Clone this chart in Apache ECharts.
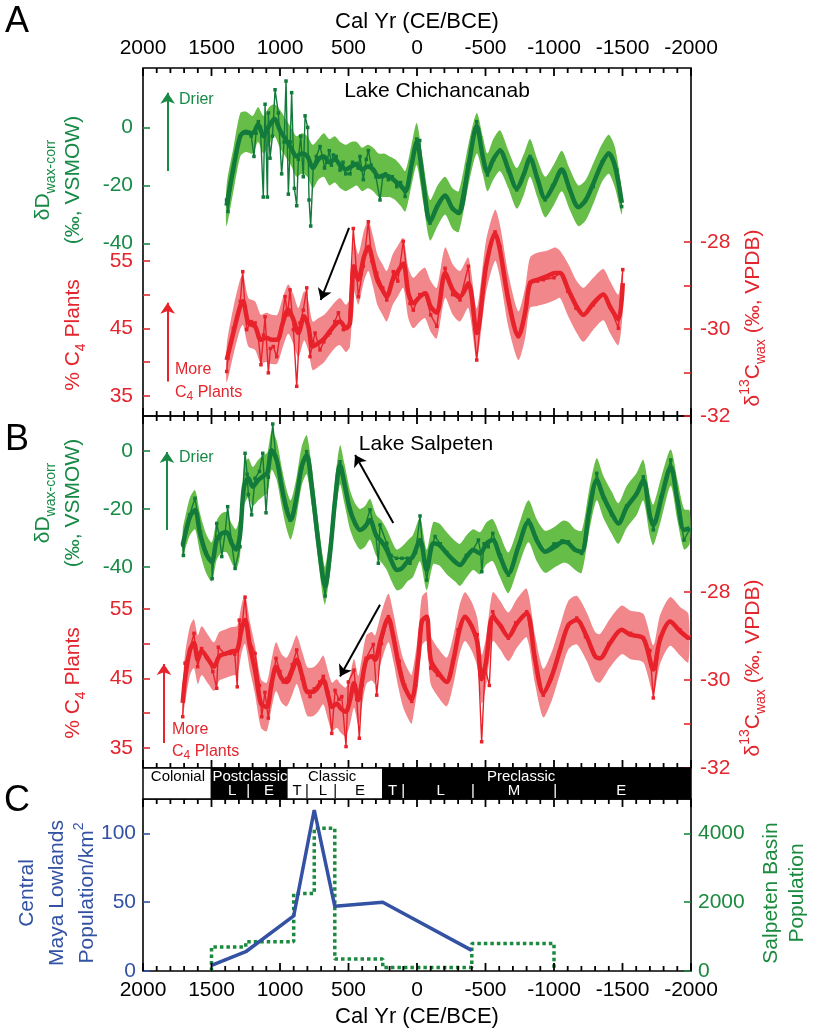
<!DOCTYPE html>
<html><head><meta charset="utf-8">
<script src="https://cdn.jsdelivr.net/npm/echarts@6/dist/echarts.min.js"></script>
<style>html,body{margin:0;padding:0;background:#fff}#c{width:813px;height:1031px}</style>
</head><body><div id="c"></div>
<script>
// ---------------- DATA ----------------
const xTicks = [2000,1500,1000,500,0,-500,-1000,-1500,-2000];
const xMinorStep = 100;
const greenTicks = [0,-20,-40];
const pctTicks = [35,40,45,50,55];
const pctLabels = [35,45,55];
const d13Ticks = [-32,-31,-30,-29,-28];
const d13Labels = [-32,-30,-28];
const popTicks = [0,50,100];
const salpTicks = [0,2000,4000];

const agYr = [1390,1340,1290,1250,1200,1160,1120,1080,1040,1000,960,920,880,840,800,760,720,680,640,600,560,520,480,440,400,360,320,280,240,200,160,120,85,40,2,-46,-95,-150,-205,-260,-305,-375,-436,-480,-514,-557,-606,-667,-728,-781,-825,-878,-935,-996,-1057,-1112,-1178,-1232,-1290,-1348,-1400,-1446,-1495];
const agMid = [-27,-14,-3,-1.5,-2,1,-3,0.5,3,-1,-4,-7,-10,-9,-10,-14,-11,-10,-12,-11,-13,-14.5,-13.5,-12.5,-14.5,-13.5,-14.5,-17,-16.5,-17,-18.5,-20,-22,-13,-5,-19,-32.5,-27,-23.5,-28,-29.5,-13.5,0.5,-10,-15.5,-11,-8,-14.5,-21,-16,-10.5,-17.5,-24.5,-20,-14.5,-21,-27.5,-25,-19,-12.5,-9,-13.5,-26];
const agHi = [-20,-7,5,5.5,4,7,4,7,8,6,3,0,-3,-2,-3,-6,-4,-2,-4,-3,-5,-6,-5,-5,-7,-6,-7,-9,-9,-10,-11,-13,-15,-6,1.5,-12,-25,-20,-17,-21,-22,-6,5,-3,-9,-4,-1,-8,-14,-9,-4,-11,-17,-13,-8,-14,-20,-18,-12,-6,-2.5,-7,-22];
const agLo = [-34,-22,-10,-8.5,-9,-5,-9,-6,-3,-7,-10,-13,-17,-16,-17,-21,-18,-17,-20,-19,-21,-22,-21,-20,-22,-21,-22,-24,-24,-24,-25,-27,-29,-20,-13,-26,-39,-34,-30,-35,-36,-20,-9,-16,-22,-18,-15,-21,-28,-23,-17,-24,-31,-27,-22,-28,-34,-32,-26,-19,-16,-21,-30];
const agRawYr = [1390,1380,1340,1290,1270,1240,1210,1190,1175,1158,1143,1122,1109,1092,1085,1073,1055,1036,1012,988,970,956,939,925,915,895,878,866,849,830,817,798,788,776,757,735,708,690,675,659,640,625,611,590,562,540,520,489,470,450,430,416,392,370,355,335,319,300,270,250,230,209,180,148,120,100,87,40,2,-20,-46,-95,-150,-205,-260,-302,-370,-436,-480,-514,-560,-606,-667,-728,-780,-825,-880,-935,-990,-1057,-1110,-1178,-1230,-1287,-1350,-1397,-1458,-1494];
const agRaw = [-25,-29,-15,-3,-2,-2,-3,-10,-2,2,0,-24,8,-24,5,-10.6,-3,13,5,-16,-5,16,-23,-5,12,-21,-27,-11,-3,-17,4,0,-25,-34,-13.5,-10,-6.6,-10,-14,-12,-8,-13,-9.5,-10,-14.7,-12,-16,-16,-12,-13,-14,-10,-18,-11,-8,-13,-14.7,-17,-25,-17,-16,-18,-17,-20.4,-19,-21,-23.8,-12,-4,-4.5,-19,-33,-27,-23.8,-28,-29.6,-13,2,-10,-16.4,-11,-7.8,-15,-21.5,-16,-10,-18,-25,-20,-14.7,-21,-27.3,-25,-20.4,-12,-8.9,-14.7,-27.3];

const arYr = [1389,1341,1292,1270,1231,1182,1140,1100,1060,1020,980,940,902,866,824,793,762,720,677,635,594,562,518,489,460,428,387,355,319,290,252,221,177,141,100,63,27,-22,-59,-100,-144,-205,-261,-314,-375,-436,-504,-570,-606,-667,-740,-789,-825,-878,-947,-1008,-1044,-1105,-1166,-1214,-1287,-1360,-1409,-1470,-1502];
const arMid = [40.3,44.3,48.2,49,45.8,45.3,43.3,43.6,43.3,43.3,45.8,47.8,46.3,44.3,46.8,45.3,42.3,42.8,43.5,44.6,45.6,46,45,45.8,54.2,52.2,55.6,57.1,54.6,52.2,50.7,49.7,52.2,53.4,54.6,50.2,48.7,49.7,50.2,48.2,47.3,53.2,50.7,49.7,51.7,44.3,54.2,59.1,56.6,49.2,43.8,47.3,51.7,52.2,52.7,53.2,53.2,50.7,48.2,47,48.7,50,48.2,46.3,51.7];
const arHi = [42.5,48,52.2,53,49.5,49,47,47.3,47,47,49.5,51.5,50,48,50.5,49,46,46.5,47,48,49,49.5,48.5,49.5,58,56,59.5,61,58.5,56,54.5,53.5,56,57.2,58.4,54,52.5,53.5,54,52,51,57,54.5,53.5,55.5,48,58,62.6,60.3,53,47.5,51,55.5,56.2,56.5,57,56.5,54.5,52,51,52.5,53.8,52,50,54];
const arLo = [37,41,44.8,45.5,42.3,41.8,39.8,40,39.7,39.8,42.2,44.2,42.7,40.7,43.2,41.7,38.8,39.3,40,41.2,42.2,42.5,41.5,42.3,50.5,48.5,52,53.5,51,48.5,47,46,48.5,49.7,51,46.5,45,46,46.5,44.5,43.5,49.5,47,46,48,40.5,50.3,55,52.5,45.2,40.3,43.5,48,48.3,48.7,49.2,49.5,46.7,44.3,43,44.8,46.2,44.3,42.5,47.5];
const arRawYr = [1389,1380,1340,1290,1272,1255,1243,1210,1182,1160,1139,1120,1109,1085,1070,1049,1024,1000,963,945,927,902,878,854,830,805,781,760,744,708,680,650,635,600,574,537,501,465,428,392,355,330,294,250,221,173,140,100,51,27,-20,-59,-100,-144,-205,-260,-314,-375,-436,-500,-570,-606,-670,-740,-790,-825,-880,-922,-1000,-1044,-1100,-1160,-1214,-1287,-1360,-1409,-1470,-1502];
const arRaw = [38.6,40.6,45,49,53.4,48,44.8,46,45.8,44,39.6,44,46.7,38.4,42,42.3,40.8,44,49.7,47,50.7,44.8,36.4,45.8,47.7,51,40.8,43,44.3,41.8,43,44,44.3,46,47.3,44.8,45.3,59.8,49.7,54.2,60.8,55,53.2,51,49.2,53.4,52,57.9,48.7,47.7,50,50.2,47,45.3,53.9,50,49.2,54.2,40.3,54,59.3,57.1,49,43.8,47.5,51.7,52,52.2,52.5,53.2,50.5,48,47,48.5,50,48.2,45,53.7];

const bgYr = [1710,1693,1657,1620,1584,1540,1498,1462,1425,1389,1353,1321,1292,1263,1231,1199,1158,1121,1092,1061,1024,988,951,922,883,842,805,768,727,688,671,635,598,562,530,489,452,416,379,343,299,258,221,184,148,112,71,30,-22,-71,-119,-163,-217,-278,-314,-363,-411,-460,-509,-553,-606,-667,-740,-813,-874,-935,-1008,-1068,-1105,-1154,-1202,-1258,-1312,-1360,-1421,-1470,-1531,-1604,-1652,-1701,-1725,-1786,-1852,-1901,-1949,-1990];
const bgMid = [-32.4,-28.9,-22.6,-20.3,-28.4,-35.3,-38.2,-30.7,-28.4,-28,-31.8,-34,-29,-12.3,-9.4,-12.3,-10,-8.6,-7.5,0.3,-3.1,-12.3,-20.3,-23.8,-16.9,-5.4,-1.4,-12.3,-28.9,-43.3,-46.7,-35.4,-16.9,-4.8,-11.1,-20.3,-24.9,-27.2,-26.1,-23.8,-29,-31.3,-34.1,-38.2,-41,-40.5,-38.2,-36.4,-30.7,-41,-31.8,-32.4,-35.3,-38.2,-39.3,-36.4,-34.1,-35.3,-31.8,-30.7,-36.4,-42.2,-33,-24.4,-30.7,-34.7,-33,-31.3,-31.8,-34.1,-34.7,-20.3,-10,-15.7,-21.5,-25,-19.3,-14.7,-10,-22.6,-25.5,-15.7,-5.4,-16.9,-27.2,-26.6];
const bgHi = [-27,-23,-16,-13.5,-21.5,-28.5,-31.5,-24,-21.5,-21,-25,-27,-22,-5.5,-2.5,-5.5,-3,-1.5,-0.5,7,3.5,-5.5,-13.5,-17,-10,1.5,5.5,-5.5,-22,-36.5,-40,-28.5,-10,2,-4.3,-13.5,-18,-20,-19,-16.5,-22,-24,-27,-31,-34,-33,-31,-29,-23,-34,-24.5,-25,-28,-31,-32,-29,-27,-28,-24.5,-23.5,-29,-35,-26,-17,-23.5,-27.5,-26,-24,-24.5,-27,-27.5,-13,-2.5,-8.5,-14,-18,-12,-7.5,-3,-15.5,-18.5,-8.5,0.5,-10,-20,-20.5];
const bgLo = [-37,-34,-29,-27,-35,-42,-45,-37.5,-35,-35,-38.5,-41,-36,-19,-16,-19,-17,-15.5,-14.5,-6.5,-10,-19,-27,-30.5,-23.5,-12,-8,-19,-35.5,-50,-53,-42,-23.5,-11.5,-18,-27,-31.5,-34,-33,-30.5,-36,-38.5,-41,-45,-48,-47.5,-45,-43.5,-38,-48,-39,-39.5,-42.5,-45,-46.5,-43.5,-41,-42.5,-39,-38,-43.5,-49,-40,-31.5,-38,-42,-40,-38.5,-39,-41,-42,-27.5,-17,-23,-28.5,-32,-26.5,-22,-17,-29.5,-32.5,-23,-12,-24,-34,-32];
const bgRawYr = [1710,1705,1690,1660,1620,1580,1540,1498,1495,1462,1440,1425,1400,1382,1355,1328,1292,1255,1240,1231,1207,1182,1150,1126,1102,1085,1053,1030,988,950,927,883,842,805,768,727,688,671,635,598,562,530,489,452,416,380,343,300,282,270,221,190,150,110,70,51,10,-22,-40,-71,-100,-132,-170,-217,-270,-314,-360,-410,-448,-465,-473,-490,-520,-553,-610,-667,-740,-813,-870,-935,-1000,-1060,-1105,-1150,-1202,-1260,-1312,-1360,-1420,-1470,-1530,-1600,-1652,-1700,-1725,-1780,-1852,-1900,-1949,-1988];
const bgRaw = [-32.4,-36,-28,-22,-16.3,-28,-35,-38.2,-44,-25,-30,-36.4,-28,-19.2,-31,-40.5,-33,-0.8,-8,-15,-22,-9.4,-7,-0.8,-21.3,-9,9.3,-2,-12,-20,-23.8,-17,-6,-0.2,-12,-29,-44,-50,-35,-17,-3.7,-11,-20,-25,-27.2,-26,-20.3,-29,-38.7,-25.5,-31.8,-36,-37,-37,-37,-38.7,-35,-22.4,-33,-44.5,-34,-29.5,-32,-35,-38,-39.3,-36,-34,-30.7,-35,-41.6,-32,-33,-28.4,-36,-42.8,-33,-23.8,-30,-34.7,-32,-31,-31.3,-34,-35.3,-21,-7.7,-16,-22,-24.9,-19,-15,-8.9,-22,-27.2,-16,-3.1,-17,-30.7,-27.2];

const brYr = [1710,1693,1657,1628,1600,1572,1523,1482,1443,1394,1353,1312,1280,1255,1219,1182,1139,1097,1061,1029,988,951,910,878,837,800,757,720,684,647,620,586,557,520,489,460,428,404,370,330,306,265,209,173,136,100,56,38,-10,-35,-71,-100,-156,-217,-266,-310,-350,-399,-440,-472,-504,-553,-606,-667,-728,-801,-862,-922,-983,-1044,-1105,-1166,-1239,-1300,-1336,-1409,-1494,-1555,-1652,-1725,-1774,-1847,-1920,-1981];
const brMid = [41.5,45,49.1,50.1,47.7,49,47.7,46.7,48.2,48.6,48.9,49.1,52.2,53.4,49.6,46.2,41.4,40.9,44.3,46.7,45,44.5,46.2,47.7,45.3,43.1,43.1,43.8,44.8,42.4,40.9,41.4,40.7,40.2,41.9,44.3,41.9,44.3,47.7,48.2,47.7,50.6,53.7,51,47.2,44.3,42.4,42,48,53.2,53.9,47.7,45.8,44.5,47.7,52,53.9,52.5,50.2,44.9,47.4,53.9,52.7,51,52.9,54.4,47.7,42.9,45.3,49.1,52.7,53.4,51,48.2,47.9,50.1,52,51.3,50.8,46.3,50.6,53.2,51.8,50.8];
const brHi = [44,48.5,52.5,53.5,51.2,52.5,51.2,50.2,51.7,52.1,52.4,52.6,55.7,57,53.1,49.7,44.9,44.4,47.8,50.2,48.5,48,49.7,51.2,48.8,46.6,46.6,47.3,48.3,45.9,44.4,44.9,44.2,43.7,45.4,47.8,45.4,47.8,51.2,51.7,51.2,54.1,57.2,54.5,50.7,47.8,45.9,45.5,51.5,56.7,57.4,51.2,49.3,48,51.2,55.5,57.4,56,53.7,48.4,50.9,57.4,56.2,54.5,56.4,57.9,51.2,46.4,48.8,52.6,56.2,56.9,54.5,51.7,51.4,53.6,55.5,54.8,54.3,49.8,54.1,56.7,55.3,54.3];
const brLo = [39.5,41.5,45.5,46.5,44.2,45.5,44.2,43.2,44.7,45.1,45.4,45.6,48.7,50,46.1,42.7,37.9,37.4,40.8,43.2,41.5,41,42.7,44.2,41.8,39.6,39.6,40.3,41.3,38.9,37.4,37.9,37.2,36.7,38.4,40.8,38.4,40.8,44.2,44.7,44.2,47.1,50.2,47.5,43.7,40.8,38.9,38.5,44.5,49.7,50.4,44.2,42.3,41,44.2,48.5,50.4,49,46.7,41.4,43.9,50.4,49.2,47.5,49.4,50.9,44.2,39.4,41.8,45.6,49.2,49.9,47.5,44.7,44.4,46.6,48.5,47.8,47.3,42.8,47.1,49.7,48.3,47.3];
const brRawYr = [1710,1693,1660,1628,1601,1572,1530,1490,1462,1450,1400,1365,1330,1312,1297,1280,1255,1231,1182,1150,1133,1110,1085,1060,1029,1000,976,950,910,878,840,800,781,750,710,684,650,622,598,570,549,518,501,460,440,421,400,372,319,294,260,209,170,130,90,38,10,-35,-71,-100,-150,-217,-260,-300,-350,-400,-440,-472,-497,-528,-553,-610,-667,-720,-801,-860,-922,-980,-1040,-1100,-1166,-1230,-1290,-1336,-1400,-1494,-1560,-1652,-1700,-1725,-1774,-1847,-1920,-1981];
const brRaw = [39.5,47.2,49,51.5,46.7,49.3,48,46,43.6,49.5,48.5,48.6,48.5,43.8,53.4,52,56.7,51,48.6,44,39.5,43,39.3,44,47.9,46,44.5,45,47,49.1,45,43,42.4,43.5,44.5,45.3,43,37.1,43.3,42,42.4,35.2,44.5,46.2,42,36.4,44,47.9,49.9,42.6,50,53.9,51,47.5,44,41.7,44,53.2,53.9,46.5,45.5,44.5,47.5,52,53.9,52.5,51.3,35.9,46.5,44,54.6,52.5,50.8,53,54.6,48,42.6,45,49,52.5,53.7,51,48.5,47.9,50,52,51.5,50.8,49,42.2,50.8,53.2,52,50.8];

const periodNames = ['Colonial','Postclassic','Classic','Preclassic'];
const periodStart = [2000,1500,950,250];
const periodEnd = [1500,950,250,-2000];
const periodFill = ['#ffffff','#000000','#ffffff','#000000'];
const periodLabelYr = [1745,1219,620,-760];
const subLabels = ['L','|','E','T','|','L','|','E','T','|','L','|','M','|','E'];
const subLabelYr = [1350,1233,1080,876,803,686,598,416,179,100,-173,-409,-708,-1008,-1490];

const popYr = [1500,1250,900,750,600,250,-400];
const popVal = [4,14,40,117,47,50,15];
const salpBounds = [1500,1250,900,750,600,250,-400,-1000];
const salpPop = [700,850,2250,4150,350,100,800];

const drierA = [[1820,-15],[1820,12]];
const moreA = [[1820,37.1],[1820,48.8]];
const blackA = [[496,59.9],[703,49.2]];
const drierB = [[1825,-27.2],[1825,-0.3]];
const moreB = [[1847,35.7],[1847,47.1]];
const blackB1 = [[173,-24.8],[452,-1.4]];
const blackB2 = [[270,55.6],[562,45.3]];

// ---------------- STYLE ----------------
const FONT = '"Liberation Sans", Arial, Helvetica, sans-serif';
const G_DARK = '#127a3b', G_BAND = '#66bd47', G_TXT = '#178a46';
const R_LINE = '#e8222b', R_BAND = '#f1868b', R_TXT = '#e3262e';
const BLUE = '#3452a4', STEP_G = '#1b8a3e';
const TICK_COLOR = '#000000';

const zip = (a,b) => a.map((v,i)=>[v,b[i]]);
const xMin = Math.min(...xTicks), xMax = Math.max(...xTicks);
const xAllTicks = [];
for (let v = xMin; v <= xMax; v += xMinorStep) xAllTicks.push(v);

const yRangeA = [-99.5, 20.5], yRangeB = [-109.3, 12.07], yRangeC = [0, 125];

function xa(grid, pos, labels, name, show) {
  return {type:'value', gridIndex:grid, position:pos, inverse:true,
    min:xMin, max:xMax, interval:500, show: show!==false,
    axisLine:{show:false, onZero:false},
    splitLine:{show:false}, minorSplitLine:{show:false},
    axisTick:{show:false}, minorTick:{show:false},
    axisLabel:{show:labels, fontSize:21, color:'#000', fontFamily:FONT, margin:9, formatter:v=>String(v)},
    name:name||'', nameLocation:'middle', nameGap:35,
    nameTextStyle:{fontSize:22, color:'#000', fontFamily:FONT}};
}
function ya(grid, pos, min, max, ticks, labels, color, margin) {
  return {type:'value', gridIndex:grid, position:pos, min, max,
    axisLine:{show:false, onZero:false}, splitLine:{show:false},
    axisTick:{show:true, inside:true, length:7, customValues:ticks, lineStyle:{color, width:1.6}},
    axisLabel:{show:true, customValues:labels, color, fontSize:21, fontFamily:FONT, margin, formatter:v=>String(v)}};
}
// inward x ticks at the top and bottom edges of a grid, positioned through the axis scale
function tickSeries(xi, yi, yr) {
  return {type:'custom', xAxisIndex:xi, yAxisIndex:yi, silent:true, z:10, clip:false,
    data: xAllTicks.map(v=>[v, yr[0]]), encode:{x:0, y:1},
    renderItem:(p, api) => {
      const v = api.value(0);
      const top = api.coord([v, yr[1]]);
      const bot = api.coord([v, yr[0]]);
      const major = (Math.abs(v) % 500 === 0);
      const len = major ? 8 : 5;
      const w = 1.8;
      return {type:'group', children:[
        {type:'rect', shape:{x:top[0]-w/2, y:top[1], width:w, height:len}, style:{fill:TICK_COLOR}},
        {type:'rect', shape:{x:bot[0]-w/2, y:bot[1]-len, width:w, height:len}, style:{fill:TICK_COLOR}}
      ]};
    }};
}
function band(xi, yi, yrs, hi, lo, color) {
  return {type:'custom', xAxisIndex:xi, yAxisIndex:yi, silent:true, z:1, data:[[yrs[0], hi[0]]],
    renderItem:(p, api) => {
      const up = yrs.map((y,i)=>api.coord([y, hi[i]]));
      const dn = yrs.map((y,i)=>api.coord([y, lo[i]])).reverse();
      return {type:'polygon', shape:{points:up.concat(dn), smooth:0.25}, style:{fill:color}};
    }};
}
function rawLine(xi, yi, yrs, vals, color) {
  return {type:'line', xAxisIndex:xi, yAxisIndex:yi, data:zip(yrs, vals), silent:true, z:2,
    symbol:'rect', symbolSize:3.5, showSymbol:true, showAllSymbol:true,
    lineStyle:{width:1.4, color}, itemStyle:{color}, animation:false};
}
function arrowSet(list) {
  return {silent:true, symbol:['none','arrow'], symbolSize:11, animation:false, label:{show:false}, emphasis:{disabled:true},
    data: list.map(it => [{coord:it[0][0], lineStyle:{color:it[1], width:2, type:'solid'}, itemStyle:{color:it[1]}}, {coord:it[0][1]}])};
}
function thickLine(xi, yi, yrs, vals, color, arrows) {
  const s = {type:'line', xAxisIndex:xi, yAxisIndex:yi, data:zip(yrs, vals), silent:true, z:3,
    symbol:'none', smooth:0.3, lineStyle:{width:4.5, color}, animation:false};
  if (arrows) s.markLine = arrows;
  return s;
}

const salpData = [[salpBounds[0], 0]];
salpPop.forEach((v,i) => { salpData.push([salpBounds[i], v]); salpData.push([salpBounds[i+1], v]); });
salpData.push([salpBounds[salpBounds.length-1], 0]);

function blockColorAt(yr) {
  for (let i=0;i<periodStart.length;i++) if (yr<=periodStart[i] && yr>=periodEnd[i]) return periodFill[i]==='#000000' ? '#fff' : '#000';
  return '#000';
}
function rtext(x, y, text, rich, rot) {
  return {type:'text', x, y, rotation:rot||0, silent:true, z:100,
    style:{text, rich, align:'center', verticalAlign:'middle', textAlign:'center', textVerticalAlign:'middle'}};
}
function ptext(x, y, text, size, color, align) {
  return {type:'text', x, y, silent:true, z:100,
    style:{text, fill:color, font:size+'px '+FONT, align:align||'center', verticalAlign:'middle',
      textAlign:align||'center', textVerticalAlign:'middle'}};
}
const mk = (c, fs) => ({fill:c, fontSize:fs, fontFamily:FONT, lineHeight:30});
const sub = (c, fs) => ({fill:c, fontSize:fs, fontFamily:FONT, lineHeight:19, verticalAlign:'bottom'});
const sup = (c, fs) => ({fill:c, fontSize:fs, fontFamily:FONT, lineHeight:17, verticalAlign:'top'});
const ROT = Math.PI/2;

const gridBase = {left:143, right:122, show:true, borderColor:'#000', borderWidth:1.6, containLabel:false, outerBoundsMode:'none', backgroundColor:'transparent'};

const option = {
  animation:false,
  backgroundColor:'#fff',
  grid:[
    Object.assign({}, gridBase, {top:68, height:348}),
    Object.assign({}, gridBase, {top:416, height:352}),
    Object.assign({}, gridBase, {top:768, height:31, show:false}),
    Object.assign({}, gridBase, {top:799, height:172})
  ],
  xAxis:[
    xa(0,'top',true,'Cal Yr (CE/BCE)'),
    xa(0,'bottom',false),
    xa(1,'top',false),
    xa(1,'bottom',false),
    xa(2,'bottom',false,'',false),
    xa(3,'top',false),
    xa(3,'bottom',true,'Cal Yr (CE/BCE)')
  ],
  yAxis:[
    ya(0,'left',yRangeA[0],yRangeA[1],greenTicks,greenTicks,G_TXT,10),
    ya(0,'left',32,83.6,pctTicks,pctLabels,R_TXT,10),
    ya(0,'right',-32,-24,d13Ticks,d13Labels,R_TXT,9),
    ya(1,'left',yRangeB[0],yRangeB[1],greenTicks,greenTicks,G_TXT,10),
    ya(1,'left',32.12,82.77,pctTicks,pctLabels,R_TXT,10),
    ya(1,'right',-32,-24,d13Ticks,d13Labels,R_TXT,9),
    {type:'value', gridIndex:2, min:0, max:2, show:false},
    ya(3,'left',yRangeC[0],yRangeC[1],popTicks,popTicks,BLUE,7),
    ya(3,'right',0,5000,salpTicks,salpTicks,STEP_G,7)
  ],
  series:[
    tickSeries(0,0,yRangeA), tickSeries(2,3,yRangeB), tickSeries(6,7,yRangeC),
    band(0,0,agYr,agHi,agLo,G_BAND),
    band(0,1,arYr,arHi,arLo,R_BAND),
    rawLine(0,0,agRawYr,agRaw,G_DARK),
    rawLine(0,1,arRawYr,arRaw,R_LINE),
    thickLine(0,0,agYr,agMid,G_DARK, arrowSet([[drierA, G_TXT]])),
    thickLine(0,1,arYr,arMid,R_LINE, arrowSet([[moreA, R_LINE],[blackA,'#000']])),
    band(2,3,bgYr,bgHi,bgLo,G_BAND),
    band(2,4,brYr,brHi,brLo,R_BAND),
    rawLine(2,3,bgRawYr,bgRaw,G_DARK),
    rawLine(2,4,brRawYr,brRaw,R_LINE),
    thickLine(2,3,bgYr,bgMid,G_DARK, arrowSet([[drierB, G_TXT],[blackB1,'#000']])),
    thickLine(2,4,brYr,brMid,R_LINE, arrowSet([[moreB, R_LINE],[blackB2,'#000']])),
    {type:'custom', xAxisIndex:4, yAxisIndex:6, silent:true, z:5,
      data: periodStart.map((s,i)=>[s, periodEnd[i], i]),
      encode:{x:[0,1]},
      renderItem:(p, api) => {
        const a = api.coord([api.value(0), 2]), b = api.coord([api.value(1), 0]);
        const i = api.value(2);
        return {type:'rect', shape:{x:a[0], y:a[1], width:b[0]-a[0], height:b[1]-a[1]},
          style:{fill:periodFill[i], stroke:'#000', lineWidth:1.5}};
      }},
    {type:'custom', xAxisIndex:4, yAxisIndex:6, silent:true, z:6,
      data: periodNames.map((n,i)=>[periodLabelYr[i], 1.42, i]).concat(subLabels.map((n,i)=>[subLabelYr[i], 0.52, 100+i])),
      encode:{x:0, y:1},
      renderItem:(p, api) => {
        const yr = api.value(0), lv = api.value(1), k = api.value(2);
        const t = k >= 100 ? subLabels[k-100] : periodNames[k];
        const pt = api.coord([yr, lv]);
        return {type:'text', x:pt[0], y:pt[1], style:{text:t, fill:blockColorAt(yr), font:'15px '+FONT,
          align:'center', verticalAlign:'middle', textAlign:'center', textVerticalAlign:'middle'}};
      }},
    {type:'line', xAxisIndex:6, yAxisIndex:8, data:salpData, silent:true, symbol:'none', z:3,
      lineStyle:{color:STEP_G, width:3.5, type:[3.5,3]}, animation:false},
    {type:'line', xAxisIndex:6, yAxisIndex:7, data:zip(popYr,popVal), silent:true, symbol:'none', z:4,
      lineStyle:{color:BLUE, width:3.5}, animation:false}
  ],
  graphic:{elements:[
    ptext(17,22,'A',36,'#000'),
    ptext(17,440,'B',36,'#000'),
    ptext(17,801,'C',36,'#000'),
    ptext(437,91,'Lake Chichancanab',21,'#000'),
    ptext(426,444,'Lake Salpeten',21,'#000'),
    ptext(179,100,'Drier',16,G_TXT,'left'),
    ptext(179,458,'Drier',16,G_TXT,'left'),
    ptext(175,370,'More',16,R_TXT,'left'),
    {type:'text', x:175, y:393, silent:true, z:100, style:{text:'{a|C}{b|4}{a| Plants}', align:'left', verticalAlign:'middle', textAlign:'left', textVerticalAlign:'middle',
      rich:{a:{fill:R_TXT,fontSize:16,fontFamily:FONT,lineHeight:20}, b:{fill:R_TXT,fontSize:12,fontFamily:FONT,lineHeight:12,verticalAlign:'bottom'}}}},
    ptext(172,730,'More',16,R_TXT,'left'),
    {type:'text', x:172, y:752, silent:true, z:100, style:{text:'{a|C}{b|4}{a| Plants}', align:'left', verticalAlign:'middle', textAlign:'left', textVerticalAlign:'middle',
      rich:{a:{fill:R_TXT,fontSize:16,fontFamily:FONT,lineHeight:20}, b:{fill:R_TXT,fontSize:12,fontFamily:FONT,lineHeight:12,verticalAlign:'bottom'}}}},
    rtext(58,180,'{m|δD}{s|wax-corr}\n{m|(‰, VSMOW)}', {m:mk(G_TXT,21), s:sub(G_TXT,14)}, ROT),
    rtext(73,335,'{m|% C}{s|4}{m| Plants}', {m:mk(R_TXT,21), s:sub(R_TXT,14)}, ROT),
    rtext(58,503,'{m|δD}{s|wax-corr}\n{m|(‰, VSMOW)}', {m:mk(G_TXT,21), s:sub(G_TXT,14)}, ROT),
    rtext(73,683,'{m|% C}{s|4}{m| Plants}', {m:mk(R_TXT,21), s:sub(R_TXT,14)}, ROT),
    rtext(753,318,'{m|δ}{p|13}{m|C}{s|wax}{m| (‰, VPDB)}', {m:mk(R_TXT,21), s:sub(R_TXT,14), p:sup(R_TXT,14)}, ROT),
    rtext(753,668,'{m|δ}{p|13}{m|C}{s|wax}{m| (‰, VPDB)}', {m:mk(R_TXT,21), s:sub(R_TXT,14), p:sup(R_TXT,14)}, ROT),
    rtext(57,893,'{m|Central}\n{m|Maya Lowlands}\n{m|Population/km}{p|2}', {m:mk(BLUE,21), p:sup(BLUE,14)}, ROT),
    rtext(784,893,'{m|Salpeten Basin}\n{m|Population}', {m:Object.assign(mk(STEP_G,21),{lineHeight:26})}, ROT)
  ]}
};

const chart = echarts.init(document.getElementById('c'));
chart.setOption(option);
</script></body></html>
